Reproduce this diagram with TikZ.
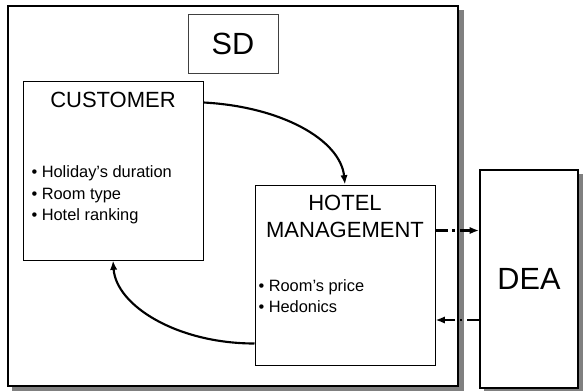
\documentclass[tikz,border=0pt]{standalone}
\usepackage{fontspec}
\setmainfont{Liberation Sans}
\usetikzlibrary{arrows.meta,calc,backgrounds}

\tikzset{every picture/.style={line width=0.75pt}}
\tikzset{
  box/.style={draw, fill=white, inner sep=0pt},
  shadowbox/.style={box, line width=1.5pt},
  dropshade/.style={fill=black!50, draw=none},
  bigtext/.style={font=\fontsize{23}{27}\selectfont},
  titletext/.style={inner sep=0pt, align=center, font=\fontsize{16.5}{20.25}\selectfont},
  itemtext/.style={inner sep=0pt, align=left, anchor=west, font=\fontsize{12.3}{16.1}\selectfont},
  flow/.style={line width=1.6pt, -{Latex[length=7pt,width=5.5pt]}},
  dataflow/.style={flow, dash pattern=on 9pt off 3.5pt on 2pt off 3.5pt},
}

\begin{document}
\begin{tikzpicture}[x=0.75pt,y=0.75pt,yscale=-1,xscale=1]
\useasboundingbox (0,0) rectangle (583,390);

%Shape: Rectangle (outer SD frame)
\node [shadowbox, minimum width=337.5pt, minimum height=285pt] (frame) at (233,196) {};
%Shape: Rectangle (SD label)
\node [box, draw=black!75, minimum width=67.5pt, minimum height=44.25pt, bigtext] (sd) at (233,43.5) {SD};
%Shape: Rectangle (customer)
\node [box, minimum width=135pt, minimum height=134.25pt] (cust) at (113,170.5) {};
%Shape: Rectangle (hotel management)
\node [box, minimum width=135pt, minimum height=135pt] (hotel) at (345,275) {};
%Shape: Rectangle (DEA)
\node [shadowbox, minimum width=73.5pt, minimum height=163.5pt, bigtext] (dea) at (529,279) {DEA};

% Text Node
\node [titletext] (custtitle) at (113,100) {CUSTOMER};
% Text Node
\node [itemtext] (custitems) at (31,195) {\textbullet\ Holiday’s duration\\\textbullet\ Room type\\\textbullet\ Hotel ranking};
% Text Node
\node [titletext] (hoteltitle) at (345,216.5) {HOTEL\\MANAGEMENT};
% Text Node
\node [itemtext] (hotelitems) at (258,296) {\textbullet\ Room’s price\\\textbullet\ Hedonics};

% connector ends
\coordinate (custout) at ($(cust.north east)+(0,22)$);
\coordinate (hotelout) at ($(hotel.south west)+(0,-22)$);
\coordinate (toDEA) at ($(hotel.north east)+(0,46)$);
\coordinate (fromDEA) at ($(dea.west)+(0,41)$);

%Curve: customer -> hotel
\draw [flow] (custout) to[out=3,in=-96,out distance=58pt,in distance=34pt] (hotel.north);
%Curve: hotel -> customer
\draw [flow] (hotelout) to[out=180,in=86,out distance=58pt,in distance=34pt] (cust.south);
%Straight Lines: hotel -> DEA
\draw [dataflow] (toDEA) -- (toDEA -| dea.west);
%Straight Lines: DEA -> hotel
\draw [dataflow] (fromDEA) -- (fromDEA -| hotel.east);

%Shadows
\begin{scope}[on background layer]
\fill [white] (0,0) rectangle (583,390);
\fill [dropshade] ($(frame.north west)+(5,5)$) rectangle ($(frame.south east)+(5,5)$);
\fill [dropshade] ($(dea.north west)+(5,5)$) rectangle ($(dea.south east)+(5,5)$);
\end{scope}

\end{tikzpicture}
\end{document}
